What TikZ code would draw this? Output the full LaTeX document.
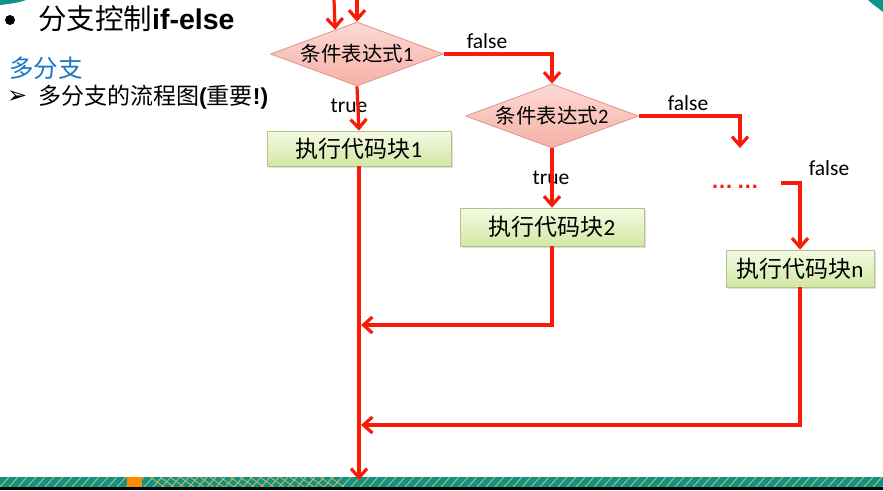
\documentclass[tikz,border=0pt]{standalone}
\usepackage{fontspec}
\setmainfont{Carlito}
\newfontfamily\cjk{Noto Sans CJK SC}
\newfontfamily\arial{Liberation Sans}
\newfontfamily\dejavu{DejaVu Sans}
\usetikzlibrary{shapes.geometric,arrows.meta,shadows}

\definecolor{flowred}{RGB}{248,28,8}
\definecolor{dfillA}{RGB}{252,218,212}
\definecolor{dfillB}{RGB}{245,176,166}
\definecolor{dline}{RGB}{224,148,138}
\definecolor{bfillA}{RGB}{245,250,228}
\definecolor{bfillB}{RGB}{210,232,164}
\definecolor{bline}{RGB}{176,198,136}
\definecolor{titleblue}{RGB}{28,118,198}
\definecolor{bandteal}{RGB}{12,148,138}
\definecolor{bandgold}{RGB}{214,182,80}

\tikzset{
  cond/.style={diamond, draw=dline, line width=0.8pt, top color=dfillA,
    bottom color=dfillB, minimum width=173pt, minimum height=64pt,
    inner sep=0pt, aspect=2.7, font=\fontsize{20.5}{20.5}\selectfont},
  codebox/.style={rectangle, draw=bline, line width=0.8pt, top color=bfillA,
    bottom color=bfillB, inner sep=0pt,
    drop shadow={shadow xshift=2pt, shadow yshift=-2pt, opacity=0.25},
    font=\fontsize{23}{23}\selectfont},
  flow/.style={draw=flowred, line width=3.2pt,
    -{Straight Barb[length=9pt,width=16pt]}},
  lab/.style={font=\fontsize{21.5}{21.5}\selectfont, inner sep=0pt},
}

\begin{document}
\begin{tikzpicture}[x=1pt,y=-1pt]
  \useasboundingbox (0,0) rectangle (883,490);
  \fill[white] (0,0) rectangle (883,490);

  % slide decoration: corners and bottom band
  \fill[bandteal] (0,0) -- (26,0) .. controls (18,3) and (8,4) .. (0,5) -- cycle;
  \fill[bandteal] (868,0) -- (883,0) -- (883,12) .. controls (877,7) and (872,4) .. (868,0) -- cycle;
  \begin{scope}
    \clip (0,477) rectangle (883,487);
    \fill[bandteal] (0,477) rectangle (883,487);
    \foreach \i in {0,9,...,900} \draw[bandgold, line width=0.9pt] (\i,487) -- (\i+9,477);
    \foreach \i in {150,160,...,330} \draw[bandgold, line width=0.8pt] (\i,477) -- (\i+14,487);
    \fill[orange!90!yellow] (127,477) rectangle (142,487);
  \end{scope}
  \fill[black] (0,487) rectangle (883,490);

  % slide text
  \fill[black] (10,20) circle (5);
  \node[anchor=west, inner sep=0pt, font=\fontsize{28.5}{28.5}\selectfont] (title) at (38,19)
    {{\cjk 分支控制}{\arial\bfseries if-else}};
  \node[anchor=west, inner sep=0pt, text=titleblue, font=\fontsize{24.5}{24.5}\selectfont\cjk] (sub) at (9,68) {多分支};
  \node[anchor=west, inner sep=0pt, font=\fontsize{24}{24}\selectfont\dejavu] (bul) at (7,97) {➢};
  \node[anchor=west, inner sep=0pt, font=\fontsize{23}{23}\selectfont] (item) at (38,97)
    {{\cjk 多分支的流程图}{\arial\bfseries(}{\cjk 重要}{\arial\bfseries!)}};

  % flowchart nodes
  \node[cond] (d1) at (357,54) {{\cjk 条件表达式}1};
  \node[cond] (d2) at (552,116) {{\cjk 条件表达式}2};
  \node[codebox, minimum width=184pt, minimum height=35pt] (b1) at (359,148.5) {{\cjk 执行代码块}1};
  \node[codebox, minimum width=184pt, minimum height=38pt] (b2) at (552,227) {{\cjk 执行代码块}2};
  \node[codebox, minimum width=148pt, minimum height=37pt] (bn) at (800,268.5) {{\cjk 执行代码块}n};
  \node[lab, text=flowred, font=\fontsize{22}{22}\selectfont\arial\bfseries] (dots) at (735,187) {…\,…};

  \coordinate (inA) at (334,0);
  \coordinate (inB) at (357,0);
  \coordinate (c3) at (740,148);
  \coordinate (c4) at (781,183);
  \coordinate (m2) at (361,325);
  \coordinate (mn) at (361,425);
  \coordinate (out) at (359,480);

  % labels
  \node[lab] (f1) at (487,41) {false};
  \node[lab] (t1) at (349,106) {true};
  \node[lab] (f2) at (688,103) {false};
  \node[lab] (t2) at (551,178) {true};
  \node[lab] (f3) at (829,168) {false};

  % connectors
  \draw[flow] (inA) -- (d1.132);
  \draw[flow] (inB) -- (d1.north);
  \draw[flow] (d1.east) -| (d2.north);
  \draw[flow] (d1.south) -- (b1.north);
  \draw[flow] (d2.south) -- (b2.north);
  \draw[flow] (d2.east) -| (c3);
  \draw[flow] (c4) -| (bn.north);
  \draw[flow] (b1.south) -- (out);
  \draw[flow] (b2.south) |- (m2);
  \draw[flow] (bn.south) |- (mn);
\end{tikzpicture}
\end{document}
